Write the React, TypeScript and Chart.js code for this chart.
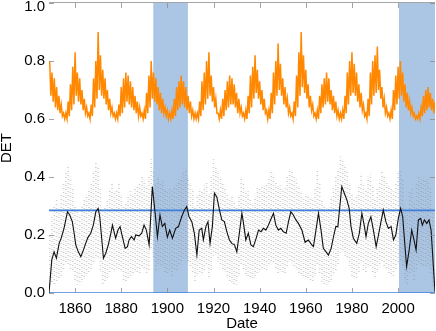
import { useEffect, useRef } from "react";
import { Chart, registerables } from "chart.js";

Chart.register(...registerables);

// ---------- data ----------
const xMin = 1848.7;
const xMax = 2016;
const xTicks = [1860, 1880, 1900, 1920, 1940, 1960, 1980, 2000];
const yTicks = [0, 0.2, 0.4, 0.6, 0.8, 1.0];

// shaded periods (start, end)
const shadeStarts = [1893.9, 2000.4];
const shadeEnds = [1908.9, 2016];

// horizontal reference lines
const refLines = [0.285, 0.0];

// orange series: yearly upper / lower envelope, 1849..2016
const orangeStartYear = 1849;
const orangeHigh = [
  0.80, 0.76, 0.74, 0.71, 0.68, 0.65, 0.62, 0.62,
  0.66, 0.72, 0.78, 0.83, 0.76, 0.74, 0.70, 0.67, 0.64, 0.62,
  0.65, 0.74, 0.80, 0.90, 0.82, 0.77, 0.74, 0.70, 0.67, 0.64, 0.62, 0.62,
  0.65, 0.71, 0.74, 0.76, 0.75, 0.73, 0.71, 0.68, 0.66, 0.64, 0.62, 0.63,
  0.69, 0.75, 0.80, 0.76, 0.74, 0.71, 0.69, 0.67, 0.64, 0.63, 0.62, 0.63,
  0.67, 0.71, 0.73, 0.75, 0.73, 0.71, 0.68, 0.66, 0.63, 0.62, 0.62,
  0.66, 0.73, 0.76, 0.80, 0.83, 0.75, 0.71, 0.67, 0.62, 0.63,
  0.67, 0.70, 0.73, 0.75, 0.74, 0.72, 0.69, 0.67, 0.64, 0.62, 0.63,
  0.68, 0.75, 0.78, 0.82, 0.77, 0.73, 0.70, 0.67, 0.63, 0.63,
  0.69, 0.76, 0.80, 0.86, 0.79, 0.74, 0.71, 0.67, 0.64, 0.62,
  0.66, 0.75, 0.83, 0.90, 0.82, 0.77, 0.72, 0.68, 0.65, 0.62, 0.63,
  0.68, 0.72, 0.74, 0.76, 0.74, 0.70, 0.68, 0.66, 0.63, 0.62, 0.63,
  0.68, 0.76, 0.80, 0.83, 0.79, 0.76, 0.72, 0.69, 0.65, 0.62,
  0.67, 0.76, 0.80, 0.82, 0.85, 0.77, 0.71, 0.67, 0.64, 0.62, 0.63,
  0.70, 0.75, 0.78, 0.80, 0.76, 0.72, 0.69, 0.66, 0.64, 0.62, 0.61, 0.62,
  0.64, 0.68, 0.70, 0.71, 0.69, 0.67, 0.66,
];
const orangeLow = [
  0.68, 0.66, 0.64, 0.63, 0.62, 0.61, 0.60, 0.60,
  0.61, 0.63, 0.65, 0.68, 0.66, 0.65, 0.63, 0.62, 0.61, 0.60,
  0.61, 0.64, 0.67, 0.70, 0.68, 0.67, 0.65, 0.63, 0.62, 0.61, 0.60, 0.60,
  0.61, 0.62, 0.64, 0.66, 0.65, 0.64, 0.63, 0.62, 0.61, 0.61, 0.60, 0.60,
  0.62, 0.64, 0.67, 0.66, 0.65, 0.63, 0.62, 0.62, 0.61, 0.60, 0.60, 0.60,
  0.61, 0.63, 0.64, 0.65, 0.64, 0.63, 0.62, 0.61, 0.60, 0.60, 0.60,
  0.61, 0.63, 0.65, 0.67, 0.68, 0.66, 0.64, 0.62, 0.60, 0.60,
  0.61, 0.63, 0.64, 0.65, 0.65, 0.64, 0.62, 0.62, 0.61, 0.60, 0.60,
  0.62, 0.64, 0.67, 0.69, 0.67, 0.65, 0.63, 0.62, 0.60, 0.60,
  0.62, 0.65, 0.68, 0.70, 0.68, 0.65, 0.64, 0.62, 0.61, 0.60,
  0.61, 0.64, 0.68, 0.71, 0.69, 0.67, 0.64, 0.63, 0.61, 0.60, 0.60,
  0.62, 0.64, 0.65, 0.66, 0.65, 0.63, 0.62, 0.61, 0.60, 0.60, 0.60,
  0.62, 0.65, 0.68, 0.69, 0.68, 0.66, 0.64, 0.63, 0.61, 0.60,
  0.61, 0.65, 0.68, 0.69, 0.70, 0.67, 0.64, 0.62, 0.61, 0.60, 0.60,
  0.63, 0.65, 0.67, 0.68, 0.66, 0.64, 0.63, 0.62, 0.61, 0.60, 0.60, 0.60,
  0.61, 0.62, 0.63, 0.64, 0.63, 0.62, 0.62,
];

// grey scatter: yearly spread (low / high), 1849..2015
const greyStartYear = 1849;
const greyLow = [
  0.02, 0.03, 0.03, 0.04, 0.05, 0.06, 0.08, 0.10, 0.10, 0.08,
  0.07, 0.04, 0.03, 0.03, 0.04, 0.05, 0.06, 0.07, 0.08, 0.10,
  0.12, 0.12, 0.07, 0.03, 0.04, 0.05, 0.07, 0.08, 0.07, 0.08,
  0.08, 0.07, 0.04, 0.04, 0.05, 0.06, 0.06, 0.07, 0.07, 0.07,
  0.09, 0.08, 0.07, 0.08, 0.15, 0.12, 0.07, 0.10, 0.09, 0.09,
  0.07, 0.07, 0.07, 0.06, 0.08, 0.08, 0.09, 0.10, 0.12, 0.12,
  0.10, 0.09, 0.07, 0.04, 0.06, 0.07, 0.06, 0.08, 0.09, 0.05,
  0.08, 0.13, 0.13, 0.11, 0.09, 0.08, 0.07, 0.05, 0.04, 0.03,
  0.03, 0.03, 0.06, 0.10, 0.08, 0.06, 0.06, 0.05, 0.05, 0.05,
  0.07, 0.07, 0.08, 0.08, 0.08, 0.09, 0.10, 0.10, 0.08, 0.07,
  0.07, 0.07, 0.07, 0.09, 0.11, 0.10, 0.09, 0.08, 0.07, 0.06,
  0.05, 0.05, 0.05, 0.04, 0.04, 0.06, 0.10, 0.07, 0.04, 0.03,
  0.03, 0.03, 0.04, 0.06, 0.08, 0.10, 0.14, 0.14, 0.13, 0.12,
  0.09, 0.06, 0.05, 0.05, 0.07, 0.10, 0.08, 0.07, 0.09, 0.09,
  0.07, 0.05, 0.07, 0.09, 0.11, 0.09, 0.08, 0.07, 0.06, 0.06,
  0.08, 0.10, 0.11, 0.09, 0.04, 0.03, 0.06, 0.07, 0.04, 0.08,
  0.10, 0.09, 0.09, 0.09, 0.09, 0.07, 0.02,
];
const greyHigh = [
  0.20, 0.26, 0.30, 0.32, 0.30, 0.34, 0.38, 0.42, 0.44, 0.40,
  0.36, 0.30, 0.28, 0.27, 0.30, 0.32, 0.34, 0.36, 0.38, 0.42,
  0.45, 0.44, 0.36, 0.28, 0.30, 0.32, 0.36, 0.38, 0.35, 0.36,
  0.38, 0.34, 0.30, 0.31, 0.33, 0.35, 0.34, 0.36, 0.37, 0.38,
  0.40, 0.39, 0.37, 0.40, 0.46, 0.42, 0.38, 0.40, 0.38, 0.39,
  0.36, 0.35, 0.36, 0.35, 0.37, 0.38, 0.39, 0.40, 0.42, 0.43,
  0.40, 0.38, 0.36, 0.30, 0.34, 0.36, 0.35, 0.37, 0.38, 0.34,
  0.40, 0.46, 0.44, 0.42, 0.40, 0.38, 0.36, 0.34, 0.33, 0.33,
  0.32, 0.30, 0.34, 0.40, 0.38, 0.35, 0.35, 0.32, 0.31, 0.33,
  0.36, 0.36, 0.37, 0.37, 0.38, 0.40, 0.42, 0.41, 0.38, 0.37,
  0.37, 0.36, 0.36, 0.40, 0.43, 0.42, 0.40, 0.39, 0.37, 0.35,
  0.33, 0.34, 0.34, 0.33, 0.33, 0.36, 0.42, 0.38, 0.32, 0.30,
  0.29, 0.30, 0.33, 0.36, 0.40, 0.43, 0.47, 0.46, 0.44, 0.42,
  0.38, 0.34, 0.33, 0.34, 0.37, 0.41, 0.38, 0.36, 0.40, 0.41,
  0.37, 0.33, 0.36, 0.39, 0.42, 0.40, 0.38, 0.37, 0.36, 0.35,
  0.38, 0.42, 0.42, 0.39, 0.30, 0.28, 0.35, 0.36, 0.32, 0.38,
  0.40, 0.39, 0.40, 0.39, 0.39, 0.36, 0.28,
];

// black smoothed series
const blackYears = [
  1848.7, 1849.9, 1850.9, 1851.9, 1853.1, 1854.1, 1855.2, 1856.7, 1857.7, 1858.8,
  1859.6, 1860.3, 1861.4, 1862.5, 1863.6, 1864.6, 1865.6, 1866.8, 1867.9, 1869.0,
  1870.0, 1870.7, 1871.6, 1872.3, 1873.3, 1874.4, 1875.5, 1876.2, 1876.9, 1877.6,
  1878.6, 1879.5, 1880.5, 1881.7, 1882.7, 1883.4, 1884.4, 1885.6, 1886.3, 1887.7,
  1888.9, 1889.9, 1890.9, 1892.1, 1892.8, 1893.5, 1894.7, 1895.7, 1896.8, 1897.8,
  1898.9, 1900.0, 1901.0, 1902.2, 1903.6, 1904.8, 1906.2, 1907.4, 1908.4, 1909.4,
  1910.6, 1911.7, 1912.8, 1913.8, 1914.9, 1915.6, 1916.7, 1917.6, 1918.5, 1919.5,
  1920.4, 1921.4, 1922.6, 1923.6, 1924.7, 1925.8, 1926.9, 1927.9, 1929.1, 1930.1,
  1931.2, 1932.3, 1933.0, 1934.0, 1935.1, 1936.2, 1937.3, 1938.5, 1939.5, 1940.6,
  1941.6, 1942.7, 1943.8, 1945.0, 1946.0, 1947.0, 1948.1, 1949.2, 1950.3, 1951.5,
  1952.5, 1953.5, 1954.6, 1955.7, 1956.8, 1958.3, 1959.7, 1961.1, 1962.6, 1963.3,
  1964.3, 1965.5, 1966.6, 1967.6, 1968.8, 1969.8, 1971.0, 1972.0, 1973.0, 1973.9,
  1974.6, 1975.6, 1976.7, 1977.8, 1978.8, 1979.6, 1980.6, 1982.1, 1983.2, 1984.3,
  1985.3, 1986.1, 1987.1, 1988.2, 1989.3, 1990.5, 1991.5, 1992.6, 1993.6, 1994.7,
  1995.8, 1997.0, 1998.0, 1999.0, 2000.1, 2001.1, 2002.0, 2003.0, 2003.7, 2004.8,
  2005.9, 2006.9, 2007.8, 2008.8, 2009.8, 2010.5, 2011.4, 2012.4, 2013.4, 2014.3,
  2015.3, 2016.0,
];
const blackValues = [
  0.0, 0.114, 0.142, 0.12, 0.171, 0.192, 0.223, 0.28, 0.269, 0.246,
  0.206, 0.166, 0.142, 0.125, 0.148, 0.171, 0.192, 0.206, 0.234, 0.28,
  0.292, 0.263, 0.183, 0.12, 0.137, 0.166, 0.206, 0.234, 0.211, 0.189,
  0.217, 0.229, 0.194, 0.154, 0.16, 0.183, 0.194, 0.183, 0.2, 0.197,
  0.206, 0.234, 0.217, 0.166, 0.263, 0.367, 0.275, 0.194, 0.269, 0.229,
  0.24, 0.192, 0.217, 0.189, 0.223, 0.229, 0.263, 0.286, 0.298, 0.263,
  0.246, 0.206, 0.131, 0.217, 0.223, 0.183, 0.229, 0.246, 0.171, 0.229,
  0.344, 0.332, 0.286, 0.252, 0.246, 0.211, 0.183, 0.171, 0.166, 0.142,
  0.206, 0.275, 0.24, 0.183, 0.206, 0.166, 0.16, 0.189, 0.217, 0.211,
  0.223, 0.217, 0.234, 0.257, 0.275, 0.234, 0.217, 0.223, 0.211, 0.206,
  0.246, 0.28, 0.269, 0.252, 0.24, 0.217, 0.175, 0.183, 0.166, 0.16,
  0.211, 0.275, 0.217, 0.154, 0.142, 0.131, 0.154, 0.194, 0.229, 0.229,
  0.286, 0.367, 0.344, 0.321, 0.292, 0.229, 0.189, 0.171, 0.206, 0.275,
  0.234, 0.194, 0.24, 0.263, 0.217, 0.16, 0.2, 0.246, 0.286, 0.246,
  0.223, 0.229, 0.183, 0.2, 0.257, 0.292, 0.263, 0.16, 0.091, 0.148,
  0.217, 0.183, 0.148, 0.252, 0.257, 0.234, 0.252, 0.24, 0.252, 0.217,
  0.091, 0.004,
];

// ---------- styling ----------
const FONT = "'Liberation Sans', Arial, Helvetica, sans-serif";

function makeDotPattern(phase: number): CanvasPattern | string {
  const c = document.createElement("canvas");
  c.width = 1;
  c.height = 4;
  const g = c.getContext("2d");
  if (!g) return "rgba(150,150,150,0.15)";
  g.fillStyle = "rgba(130,130,130,0.38)";
  g.fillRect(0, phase % 4, 1, 1);
  g.fillStyle = "rgba(130,130,130,0.10)";
  g.fillRect(0, (phase + 2) % 4, 1, 1);
  const p = g.createPattern(c, "repeat");
  return p || "rgba(150,150,150,0.15)";
}

const decorPlugin = {
  id: "decor",
  beforeDatasetsDraw(chart: any) {
    const { ctx, chartArea } = chart;
    const xs = chart.scales.x;
    ctx.save();
    ctx.fillStyle = "rgb(171,198,229)";
    for (let i = 0; i < shadeStarts.length; i++) {
      const a = Math.max(chartArea.left, xs.getPixelForValue(shadeStarts[i]));
      const b = Math.min(chartArea.right, xs.getPixelForValue(shadeEnds[i]));
      ctx.fillRect(a, chartArea.top, b - a, chartArea.bottom - chartArea.top);
    }
    ctx.restore();
  },
  afterDatasetsDraw(chart: any) {
    const { ctx, chartArea } = chart;
    const xs = chart.scales.x;
    const ys = chart.scales.y;
    ctx.save();
    ctx.strokeStyle = "rgb(165,165,165)";
    ctx.lineWidth = 1;
    ctx.beginPath();
    ctx.moveTo(chartArea.left, chartArea.top - 0.5);
    ctx.lineTo(chartArea.right, chartArea.top - 0.5);
    ctx.stroke();
    ctx.strokeStyle = "rgba(140,140,140,0.8)";
    ctx.beginPath();
    for (const v of xTicks) {
      const px = Math.round(xs.getPixelForValue(v)) + 0.5;
      ctx.moveTo(px, chartArea.bottom);
      ctx.lineTo(px, chartArea.bottom - 5);
      ctx.moveTo(px, chartArea.top);
      ctx.lineTo(px, chartArea.top + 5);
    }
    for (const v of yTicks) {
      const py = Math.round(ys.getPixelForValue(v)) + 0.5;
      ctx.moveTo(chartArea.left, py);
      ctx.lineTo(chartArea.left + 5, py);
      ctx.moveTo(chartArea.right, py);
      ctx.lineTo(chartArea.right - 5, py);
    }
    ctx.stroke();
    ctx.restore();
  },
};

export default function App() {
  const ref = useRef<HTMLCanvasElement>(null);

  useEffect(() => {
    const blackData = blackYears.map((x, i) => ({ x, y: blackValues[i] }));
    const orangeData: { x: number; y: number }[] = [];
    for (let i = 0; i < orangeHigh.length; i++) {
      orangeData.push({ x: orangeStartYear + i, y: orangeHigh[i] });
      orangeData.push({ x: orangeStartYear + i + 0.5, y: orangeLow[i] });
    }
    const greyData = greyLow.map((lo, i) => ({ x: greyStartYear + i, y: [lo, greyHigh[i]] }));
    const patterns = [makeDotPattern(0), makeDotPattern(1), makeDotPattern(3)];

    const refDatasets = refLines.map((v) => ({
      type: "line" as const,
      data: [
        { x: xMin, y: v },
        { x: xMax, y: v },
      ],
      borderColor: "rgb(62,128,220)",
      borderWidth: 1.6,
      pointRadius: 0,
      order: 1,
    }));

    const chart = new Chart(ref.current as HTMLCanvasElement, {
      type: "line",
      data: {
        datasets: [
          {
            type: "line",
            data: blackData,
            borderColor: "#111",
            borderWidth: 1.1,
            pointRadius: 0,
            tension: 0,
            order: 0,
          },
          ...refDatasets,
          {
            type: "line",
            data: orangeData,
            borderColor: "rgb(255,136,0)",
            borderWidth: 1.5,
            pointRadius: 0,
            tension: 0,
            order: 2,
          },
          {
            type: "bar",
            data: greyData as any,
            backgroundColor: (c: any) => patterns[c.dataIndex % 3],
            borderWidth: 0,
            barThickness: 1,
            grouped: false,
            order: 3,
          } as any,
        ],
      },
      options: {
        animation: false,
        responsive: false,
        events: [],
        layout: { padding: { top: 3, right: 1, left: 0, bottom: 0 } },
        plugins: { legend: { display: false }, tooltip: { enabled: false } },
        scales: {
          x: {
            type: "linear",
            min: xMin,
            max: xMax,
            offset: false,
            grid: { display: false, drawTicks: false },
            border: { display: false },
            ticks: {
              font: { family: FONT, size: 15 },
              color: "#000",
              padding: 7,
              maxRotation: 0,
              autoSkip: false,
              callback: (v: any) => String(v),
            },
            afterBuildTicks: (s: any) => {
              s.ticks = xTicks.map((v) => ({ value: v }));
            },
            afterFit: (s: any) => {
              s.height = 38;
              s.paddingLeft = 0;
              s.paddingRight = 0;
            },
            title: {
              display: true,
              text: "Date",
              font: { family: FONT, size: 15, lineHeight: 1 },
              color: "#000",
              padding: 0,
            },
          },
          y: {
            type: "linear",
            min: 0,
            max: 1,
            grid: { display: false, drawTicks: false },
            border: { display: false },
            ticks: {
              font: (c: any) => ({
                family: FONT,
                size: 15,
                lineHeight: c.tick && c.tick.value === 1 ? 0.5 : 1.2,
              }),
              color: "#000",
              padding: 4,
              callback: (v: any) => (Number(v) === 1 ? ["", "1.0"] : Number(v).toFixed(1)),
            },
            afterBuildTicks: (s: any) => {
              s.ticks = yTicks.map((v) => ({ value: v }));
            },
            afterFit: (s: any) => {
              s.width = 49;
              s.paddingTop = 0;
              s.paddingBottom = 0;
            },
            title: {
              display: true,
              text: "DET",
              font: { family: FONT, size: 15, lineHeight: 1 },
              color: "#000",
              padding: { top: -1, bottom: 0 },
            },
          },
        },
      },
      plugins: [decorPlugin],
    });
    return () => chart.destroy();
  }, []);

  return (
    <div style={{ position: "fixed", left: 0, top: 0, width: 436, height: 331 }}>
      <canvas ref={ref} width={436} height={331} style={{ display: "block" }} />
    </div>
  );
}
